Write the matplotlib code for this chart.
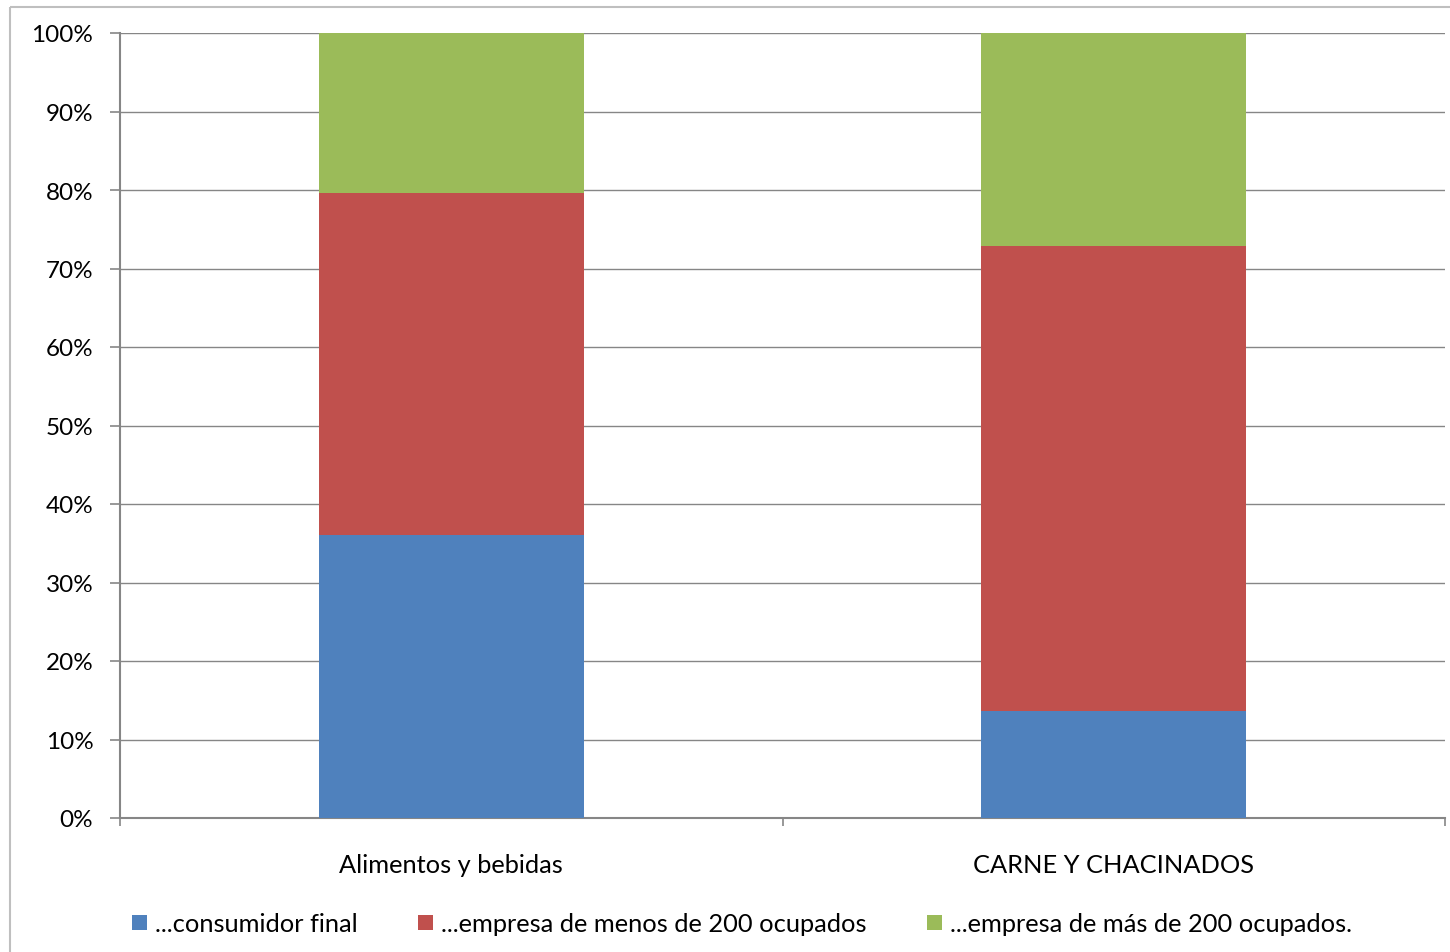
import matplotlib
matplotlib.use("Agg")
import matplotlib.pyplot as plt
from matplotlib.patches import Rectangle
from matplotlib.ticker import PercentFormatter, MultipleLocator

categories = ["Alimentos y bebidas", "CARNE Y CHACINADOS"]
series_names = ["...consumidor final", "...empresa de menos de 200 ocupados", "...empresa de más de 200 ocupados."]
consumidor = [36.0, 13.6]
menos200 = [43.6, 59.3]
mas200 = [20.4, 27.1]
colors = ["#4F81BD", "#C0504D", "#9BBB59"]

plt.rcParams['font.family'] = ['Lato', 'DejaVu Sans']
FS = 17.5
FS2 = 18.3

W, H = 1450, 953
fig = plt.figure(figsize=(W / 100, H / 100), dpi=100)
fig.patch.set_facecolor("white")

# outer chart frame
fig.patches.append(Rectangle((10 / W, 1 - 8 / H), 2, -2, transform=fig.transFigure,
                             fill=False, edgecolor="#BFBFBF", linewidth=1.5, clip_on=False))

ax = fig.add_axes([120 / W, 1 - 819 / H, (1445 - 120) / W, (819 - 34) / H])
x = list(range(len(categories)))
bottom = [0] * len(categories)
for vals, name, c in zip([consumidor, menos200, mas200], series_names, colors):
    ax.bar(x, vals, 0.4, bottom=bottom, color=c, label=name, zorder=3)
    bottom = [b + v for b, v in zip(bottom, vals)]

ax.set_xlim(-0.5, 1.5)
ax.set_ylim(0, 100)
ax.yaxis.set_major_locator(MultipleLocator(10))
ax.yaxis.set_major_formatter(PercentFormatter(decimals=0))
ax.set_xticks([-0.5, 0.5, 1.5])
ax.set_xticklabels([])
ax.set_xticks(x, minor=True)
ax.set_xticklabels(categories, minor=True)
ax.tick_params(axis='x', which='minor', length=0, pad=25.5, labelsize=FS2)
ax.tick_params(axis='x', which='major', length=6, color="#868686", width=1.2)
ax.tick_params(axis='y', length=7.2, color="#868686", width=1.2, labelsize=FS, pad=12)
ax.grid(axis='y', color="#868686", linewidth=1.0, zorder=0)
for s in ["top", "right"]:
    ax.spines[s].set_visible(False)
for s in ["left", "bottom"]:
    ax.spines[s].set_color("#868686")
    ax.spines[s].set_linewidth(1.5)

handles, labels = ax.get_legend_handles_labels()
fig.legend(handles, labels, loc='center', bbox_to_anchor=(742 / W, 1 - 925 / H), ncol=3,
           frameon=False, fontsize=FS2, handlelength=0.56, handleheight=0.56,
           handletextpad=0.32, columnspacing=2.4)

fig.savefig("out.png", dpi=100)
